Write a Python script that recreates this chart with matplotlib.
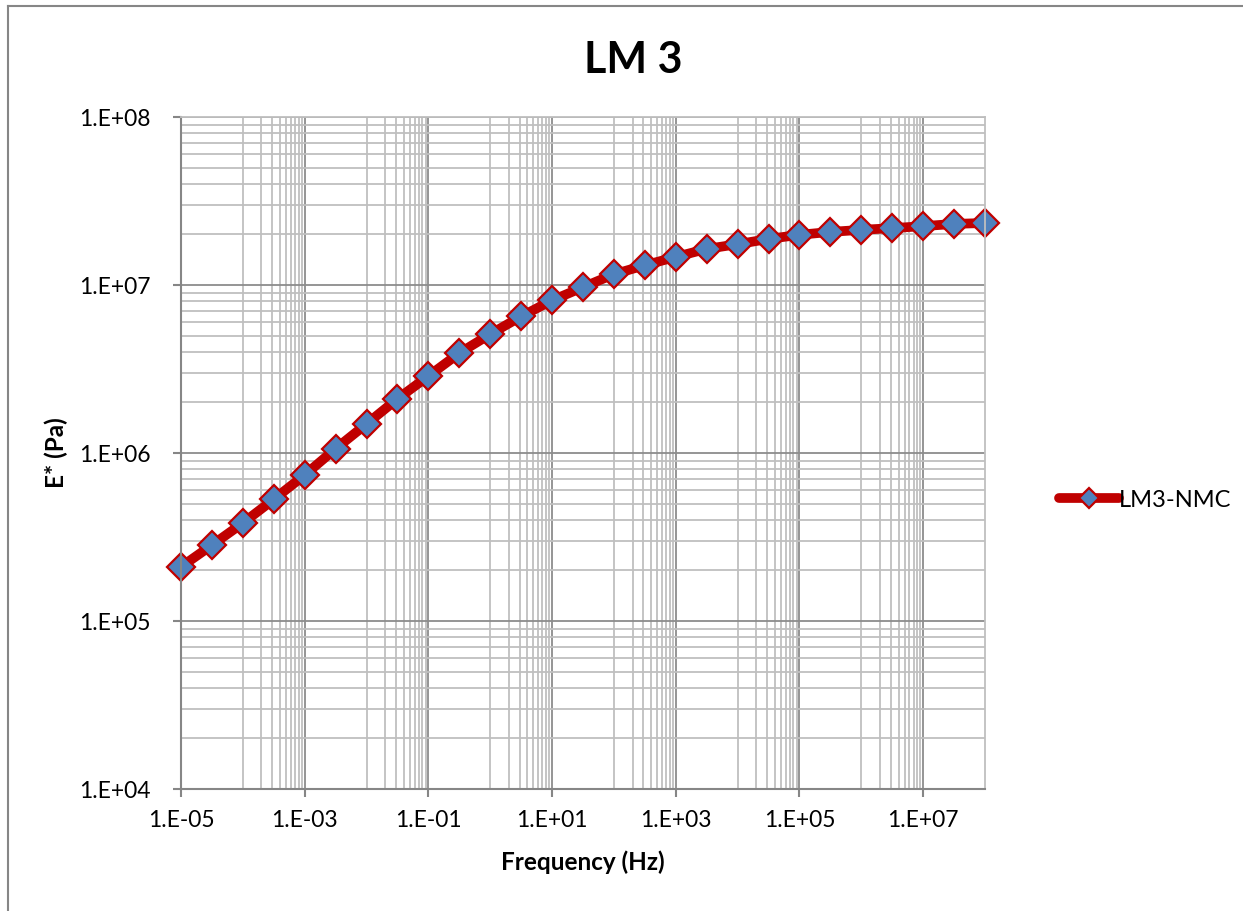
import numpy as np
import matplotlib
matplotlib.use("Agg")
import matplotlib.pyplot as plt
import matplotlib.ticker as mticker

plt.rcParams['font.family'] = ['Lato', 'DejaVu Sans']

# Frequency sweep (Hz), half-decade steps, and complex modulus E* (Pa)
frequency = [1e-5, 3.16e-5, 1e-4, 3.16e-4, 1e-3, 3.16e-3, 1e-2, 3.16e-2, 1e-1, 3.16e-1,
             1e0, 3.16e0, 1e1, 3.16e1, 1e2, 3.16e2, 1e3, 3.16e3, 1e4, 3.16e4,
             1e5, 3.16e5, 1e6, 3.16e6, 1e7, 3.16e7, 1e8]
modulus = [2.10e5, 2.83e5, 3.83e5, 5.30e5, 7.40e5, 1.06e6, 1.49e6, 2.10e6, 2.87e6, 3.93e6,
           5.10e6, 6.50e6, 8.10e6, 9.70e6, 1.16e7, 1.31e7, 1.47e7, 1.64e7, 1.75e7, 1.88e7,
           1.99e7, 2.07e7, 2.13e7, 2.18e7, 2.24e7, 2.31e7, 2.34e7]
series_name = "LM3-NMC"
title = "LM 3"
x_label = "Frequency (Hz)"
y_label = "E* (Pa)"

W, H = 1243, 911
fig = plt.figure(figsize=(W / 100, H / 100), dpi=100)
ax = fig.add_axes([181/W, 1-789/H, (985-181)/W, (789-117)/H])

ax.set_xscale('log')
ax.set_yscale('log')
ax.set_xlim(1e-5, 1e8)
ax.set_ylim(1e4, 1e8)

# x: labelled majors every two decades, minors only in the upper decade of each pair
ax.xaxis.set_major_locator(mticker.FixedLocator([10.0**d for d in range(-5, 8, 2)]))
x_minor = [k * 10.0**d for d in range(-4, 7, 2) for k in range(1, 10)]
ax.xaxis.set_minor_locator(mticker.FixedLocator(x_minor))
ax.yaxis.set_major_locator(mticker.FixedLocator([10.0**d for d in range(4, 9)]))
ax.yaxis.set_minor_locator(mticker.FixedLocator([k * 10.0**d for d in range(4, 8) for k in range(2, 10)]))

def sci_label(v, pos):
    e = int(round(np.log10(v)))
    return f"1.E{'+' if e >= 0 else '-'}{abs(e):02d}"

ax.xaxis.set_major_formatter(mticker.FuncFormatter(sci_label))
ax.yaxis.set_major_formatter(mticker.FuncFormatter(sci_label))
ax.xaxis.set_minor_formatter(mticker.NullFormatter())
ax.yaxis.set_minor_formatter(mticker.NullFormatter())

ax.grid(which='major', color='#8c8c8c', linewidth=1.3)
ax.grid(which='minor', color='#bfbfbf', linewidth=1.3)
ax.set_axisbelow(True)

for side in ['top', 'right']:
    ax.spines[side].set_color('#bfbfbf')
    ax.spines[side].set_linewidth(1.3)
for side in ['left', 'bottom']:
    ax.spines[side].set_color('#868686')
    ax.spines[side].set_linewidth(1.5)

ax.tick_params(which='major', direction='out', length=6, width=1.5, color='#868686',
               labelsize=16.5)
ax.tick_params(axis='x', which='major', pad=9)
ax.tick_params(axis='y', which='major', pad=16)
ax.tick_params(which='minor', length=0)

ax.plot(frequency, modulus, color='#c00000', linewidth=7, marker='D', markersize=14.5,
        markerfacecolor='#4f81bd', markeredgecolor='#c00000', markeredgewidth=1.6,
        label=series_name, solid_capstyle='round', clip_on=False)

fig.text(633/W, 1-60/H, title, fontsize=31, fontweight='bold', ha='center', va='center')
ax.set_xlabel(x_label, fontsize=17.5, fontweight='bold', labelpad=14)
ax.set_ylabel(y_label, fontsize=17.5, fontweight='bold', labelpad=8)

ax.legend(loc='center left', bbox_to_anchor=(1059/W, 1-500/H), bbox_transform=fig.transFigure,
          borderaxespad=0, borderpad=0, frameon=False,
          fontsize=17, handlelength=2.55, markerscale=0.68, handletextpad=0.0)

# outer chart frame
fig.add_artist(plt.Line2D([8/W, 8/W], [0, 1-6/H], color='#868686', linewidth=1.5))
fig.add_artist(plt.Line2D([8/W, 1], [1-6/H, 1-6/H], color='#868686', linewidth=1.5))

fig.savefig("out.png", dpi=100)
